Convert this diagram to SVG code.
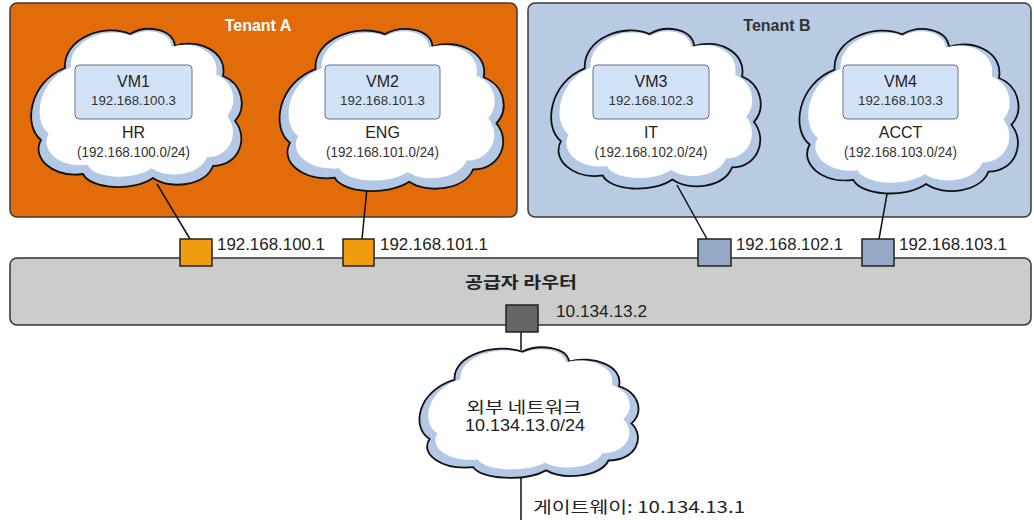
<svg xmlns="http://www.w3.org/2000/svg" xmlns:xlink="http://www.w3.org/1999/xlink" width="1034" height="520" viewBox="0 0 1034 520">
<style>
text{font-family:"Liberation Sans","Noto Sans CJK KR",Arial,sans-serif;fill:#222}
.ko{font-family:"Noto Sans CJK KR","Liberation Sans",sans-serif}
.tenA{fill:#e26b0a;stroke:#3a3a3a;stroke-width:1.5}
.tenB{fill:#b9cbe3;stroke:#3a3a3a;stroke-width:1.5}
.rim{fill:#b3c8e4;stroke:#111;stroke-width:1.8}
.in{fill:#fff;stroke:none}
.vm{fill:#d3e3f7;stroke:#6a7283;stroke-width:1}
.pa{fill:#f09c0c;stroke:#222;stroke-width:1.5}
.pb{fill:#95a8c6;stroke:#222;stroke-width:1.5}
.pg{fill:#666;stroke:#222;stroke-width:1.5}
.router{fill:#cccccc;stroke:#333;stroke-width:1.5}
.conn line{stroke:#111;stroke-width:1.5}
.t16{font-size:16px}
.ip{font-size:13.3px;fill:#333}
.cidr{font-size:14px;fill:#333}
.port{font-size:16px;fill:#222}
</style>
<defs>
<path id="cloud" vector-effect="non-scaling-stroke" d="M 40,42 C 38,12 80,-3 105,8 C 122,-2 148,3 150,20 C 172,12 203,25 198,50 C 218,58 222,82 210,95 C 224,112 214,140 188,140 C 180,160 145,164 128,152 C 108,166 65,163 58,148 C 28,152 6,132 16,114 C -2,100 4,56 40,42 Z"/>
</defs>

<g id="tenant-a">
<rect class="tenA" x="10" y="3" width="507" height="214" rx="7"/>
<text x="258" y="31" text-anchor="middle" font-size="16" font-weight="bold" style="fill:#fff">Tenant A</text>
</g>
<g id="tenant-b">
<rect class="tenB" x="528" y="3" width="503" height="214" rx="7"/>
<text x="777" y="31" text-anchor="middle" font-size="16" font-weight="bold" style="fill:#333">Tenant B</text>
</g>

<g id="connectors" class="conn">
<line x1="157" y1="184" x2="190" y2="239"/>
<line x1="367" y1="188" x2="362" y2="239"/>
<line x1="677" y1="185" x2="707" y2="239"/>
<line x1="887" y1="194" x2="879" y2="239"/>
<line x1="521" y1="332" x2="521" y2="350"/>
<line x1="521" y1="474" x2="521" y2="520"/>
</g>

<g id="cloud-hr">
<g transform="translate(25,26)">
<use xlink:href="#cloud" class="rim"/>
<use xlink:href="#cloud" class="in" transform="translate(9,2.5) scale(0.92)"/>
</g>
<rect class="vm" x="75" y="65" width="117" height="54" rx="4"/>
<text class="t16" x="133.5" y="87" text-anchor="middle">VM1</text>
<text class="ip" x="133.5" y="105" text-anchor="middle" textLength="85" lengthAdjust="spacingAndGlyphs">192.168.100.3</text>
<text class="t16" x="133.5" y="138" text-anchor="middle">HR</text>
<text class="cidr" x="133.5" y="157" text-anchor="middle" textLength="113" lengthAdjust="spacingAndGlyphs">(192.168.100.0/24)</text>
</g>

<g id="cloud-eng">
<g transform="translate(273,26) scale(1.064,1.025)">
<use xlink:href="#cloud" class="rim"/>
<use xlink:href="#cloud" class="in" transform="translate(9,2.5) scale(0.92)"/>
</g>
<rect class="vm" x="325" y="65" width="115" height="54" rx="4"/>
<text class="t16" x="382.5" y="87" text-anchor="middle">VM2</text>
<text class="ip" x="382.5" y="105" text-anchor="middle" textLength="85" lengthAdjust="spacingAndGlyphs">192.168.101.3</text>
<text class="t16" x="382.5" y="138" text-anchor="middle">ENG</text>
<text class="cidr" x="382.5" y="157" text-anchor="middle" textLength="113" lengthAdjust="spacingAndGlyphs">(192.168.101.0/24)</text>
</g>

<g id="cloud-it">
<g transform="translate(545,26) scale(0.995,1.01)">
<use xlink:href="#cloud" class="rim"/>
<use xlink:href="#cloud" class="in" transform="translate(9,2.5) scale(0.92)"/>
</g>
<rect class="vm" x="593" y="65" width="116" height="54" rx="4"/>
<text class="t16" x="651" y="87" text-anchor="middle">VM3</text>
<text class="ip" x="651" y="105" text-anchor="middle" textLength="85" lengthAdjust="spacingAndGlyphs">192.168.102.3</text>
<text class="t16" x="651" y="138" text-anchor="middle">IT</text>
<text class="cidr" x="651" y="157" text-anchor="middle" textLength="113" lengthAdjust="spacingAndGlyphs">(192.168.102.0/24)</text>
</g>

<g id="cloud-acct">
<g transform="translate(793,26) scale(1.04,1.04)">
<use xlink:href="#cloud" class="rim"/>
<use xlink:href="#cloud" class="in" transform="translate(9,2.5) scale(0.92)"/>
</g>
<rect class="vm" x="843" y="65" width="115" height="54" rx="4"/>
<text class="t16" x="900.5" y="87" text-anchor="middle">VM4</text>
<text class="ip" x="900.5" y="105" text-anchor="middle" textLength="85" lengthAdjust="spacingAndGlyphs">192.168.103.3</text>
<text class="t16" x="900.5" y="138" text-anchor="middle">ACCT</text>
<text class="cidr" x="900.5" y="157" text-anchor="middle" textLength="113" lengthAdjust="spacingAndGlyphs">(192.168.103.0/24)</text>
</g>

<g id="router">
<rect class="router" x="10" y="258" width="1021" height="67" rx="7"/>
<text class="ko" x="521" y="288" text-anchor="middle" font-size="16" font-weight="bold" textLength="112" lengthAdjust="spacingAndGlyphs">공급자 라우터</text>
</g>

<g id="port-100">
<rect class="pa" x="180" y="239" width="32" height="27"/>
<text class="port" x="217" y="250" textLength="108" lengthAdjust="spacingAndGlyphs">192.168.100.1</text>
</g>
<g id="port-101">
<rect class="pa" x="343" y="239" width="31" height="27"/>
<text class="port" x="380" y="250" textLength="108" lengthAdjust="spacingAndGlyphs">192.168.101.1</text>
</g>
<g id="port-102">
<rect class="pb" x="698" y="239" width="33" height="27"/>
<text class="port" x="736" y="250" textLength="107" lengthAdjust="spacingAndGlyphs">192.168.102.1</text>
</g>
<g id="port-103">
<rect class="pb" x="862" y="239" width="32" height="27"/>
<text class="port" x="899" y="250" textLength="108" lengthAdjust="spacingAndGlyphs">192.168.103.1</text>
</g>
<g id="port-gw">
<rect class="pg" x="506" y="305" width="32" height="27"/>
<text class="port" x="556" y="317" textLength="91" lengthAdjust="spacingAndGlyphs">10.134.13.2</text>
</g>

<g id="external-net">
<g transform="translate(413,345) scale(1.04,0.825)">
<use xlink:href="#cloud" class="rim"/>
<use xlink:href="#cloud" class="in" transform="translate(9,2.5) scale(0.92)"/>
</g>
<text class="ko" x="524" y="413" text-anchor="middle" font-size="16" textLength="115" lengthAdjust="spacingAndGlyphs">외부 네트워크</text>
<text x="525" y="431" text-anchor="middle" font-size="17" textLength="120" lengthAdjust="spacingAndGlyphs">10.134.13.0/24</text>
</g>

<g id="gateway">
<text class="ko" x="533" y="513" font-size="16" textLength="212" lengthAdjust="spacingAndGlyphs">게이트웨이: 10.134.13.1</text>
</g>
</svg>
